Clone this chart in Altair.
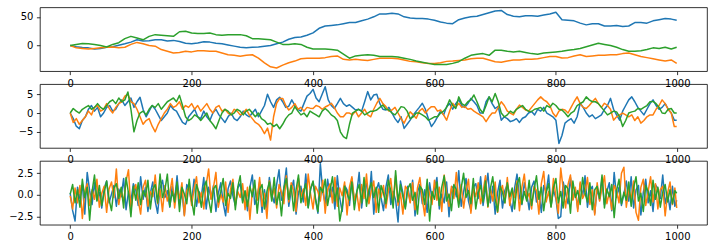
import altair as alt
import numpy as np
import pandas as pd

# ---------------- Panel 1: random walks (sampled every 10 steps) ----------------
p1_blue = [0, -2, -3.5, -4, -6, -5, -3, -2, 0.5, 3, 6, 10, 8, 8.5, 10, 10, 8, 9, 7, 4,
           3, 4.5, 6.5, 6, 4, 3, 1, -1, -3, -4, -3, -2.5, -1, 0, 3, 6, 11, 14, 15, 18,
           22, 30, 34, 35, 36, 38, 40, 40, 43, 46, 50, 55, 55, 56, 55, 50, 48, 47, 47, 46,
           44, 41, 39, 38, 45, 48, 50, 51, 54, 57, 60, 61, 54, 51, 50, 52, 52, 51, 53, 55,
           58, 45, 44, 43, 39, 36, 38, 38, 34, 34, 35, 33, 34, 40, 40, 39, 43, 45, 47, 46, 44]
p1_orange = [0, -4, -5, -6, -5, -4, -3, -2.5, -4, -3, 2, 5.5, 3, 0, -1, -7, -10, -13, -12, -10,
             -11, -9, -9, -10, -10, -13, -16, -17, -18.5, -17, -16, -22, -30, -37, -39, -34, -30, -27, -23, -22,
             -22, -22, -21, -19, -18, -24, -25, -24, -25, -26, -24, -22, -22, -22, -23, -25, -27.5, -28, -30, -31,
             -31, -30, -27.5, -27, -26, -25, -23, -22, -22, -25, -28, -29, -27, -25, -25, -24, -24, -23, -21, -19,
             -19, -21.5, -21, -18, -16, -19, -18, -17, -17, -16, -16, -14, -13, -16, -19, -21, -23, -25, -27, -25, -31]
p1_green = [0, 2, 3.5, 3, 2, 0, -2.5, 2, 5, 12, 16, 13, 10, 16, 19, 18, 17, 16, 24, 25,
            22, 21, 21, 22, 19, 18, 19, 19, 19, 17, 12, 12, 11, 10, 6, 2, 2, 3, 2, -3,
            -6, -6, -6, -7, -8, -15, -22, -18, -17, -16, -17, -19, -19, -19, -20, -22, -24, -27, -29, -31,
            -33, -33, -33, -31, -28, -22, -17, -15, -14, -17, -8, -8, -10, -11, -10, -12, -14, -15, -13, -12,
            -11, -10, -8, -7, -5, -2, 1, 4, 2, 0, -3, -7, -10, -10, -9, -7, -4, -5, -3, -6, -3]

# ---------------- Panel 2: smoothed noise (sampled every 5 steps) ----------------
p2_blue = [0, -1.5, -3.5, -4.2, -2, -1, 1, 2, 0.5, 1.5,
           -1, 0, 1.5, 2, 0.5, 1, 2.5, 3.5, 2, 3,
           4, 1.5, 3, 4.2, 1, -1, 0.5, 2, 1, -0.5,
           -2, -1, 0, 2, 1, 0.5, -1, -2.5, -3, -1,
           0, 1, -1, -1.5, 0.5, -1, -2, 0, 1, -0.5,
           -1.5, -2.5, -1, 0, -1.5, -2, -1, 0.5, -0.5, -1,
           0, 1, -1, 0.5, 2, 5, 3, 1.5, 3.5, 4.2,
           3, 1.5, 1.8, 3.5, 2, 1, 0.5, 2.5, 4.5, 5.2,
           6.3, 4, 3, 5, 7, 3.5, 2, 1.2, 2.5, 3.9,
           2.5, 1.8, 2.2, 1.5, 0.8, 1, 0.5, 3, 5.7, 3.5,
           4.8, 5, 2.5, 1, 0.8, 1.5, 0, -1.5, -2.5, -1,
           -4.1, -3, -1.9, -0.5, 0.5, 1.5, 2.6, 1, -1.5, -3.6,
           -2.5, -1, 0.5, -0.5, 1.7, 2.5, 1, 2.5, 3.5, 2,
           1.5, 2.5, 3.9, 3, 2, 0, 0, 3, 4.3, 2.5,
           1.2, 1.8, -1.9, -1, -1.5, -2.3, -2, -1.5, -2.5, -1.4,
           -1, 0, 0.4, -0.5, 1, 0.5, 1.5, 0, -0.5, -1,
           -1.9, -8.1, -6, -2.7, -2, -1.5, -2.7, -1, 2.6, 1.5,
           0, -1, -0.5, -1.5, -1, -0.5, 1, 2, 3.9, 1,
           -0.5, -1.9, 0.5, 2, 3.5, 4.3, 3, 1.5, 0.5, -0.5,
           1, 2.5, 3.5, 2, 1, 1.5, 2.5, 1, 0, -1.9, -1.9]
p2_orange = [0, -2.5, -1.5, -3, -2, -1, 0.5, -0.5, 1.5, 2,
             0.5, 1, 2.5, 1, 0, 1.5, 2.5, 3, 4.5, 5,
             3, 2.5, 1, -1, -3, -2, -1.5, -3.5, -5, -3,
             -1.5, 0, 1, 2.5, 1.5, 2, 3, 1, 2, 1.5,
             2.5, 1, 2, 0.5, 1.5, 2.5, 1, 0, 1.5, 2,
             0.5, 1, 0, -0.5, 1, 0.5, -0.5, 0, 1, -0.5,
             -1.5, -2.5, -3, -4, -5.5, -4, -7.2, -1, 2.6, 3.9,
             3.9, 2, 0.8, 1.5, 2.5, 1, 1.5, 0.5, 1.5, 1.3,
             1.2, 2, 1.7, 1, 1.6, 2, 2.6, 1.5, 0, -1,
             -1, 0, 0, -0.5, 0.5, -1, 0, 1, -0.5, -1,
             1, 2.6, 3.9, 2.5, 1.7, 0.5, 0.8, 1.5, 0, -1.5,
             -2.7, -1, 0.3, -0.5, -1.4, 0.5, 1.2, 0, 1, 1.7,
             1.7, 0.5, 0.8, -0.5, -1.9, 0.5, 2.6, 1.5, 2.6, 1.5,
             1.7, 1, 1.2, 0.5, 0, -0.5, -1, -2.3, -1, 0,
             0, 1.5, 3, 2, 0.5, 0, -0.5, 1, 2.1, 1.5,
             0.8, 0.5, 1.5, 2.5, 3.5, 4.3, 3.5, 3, 2, 0,
             -1, 0.5, 1, 0.8, 0, 1.5, 3, 4.3, 2.5, 1.5,
             1.2, 2, 3, 3.9, 2.5, 1.5, 2.6, 2, 1, -1.9,
             -1, -0.5, 0, -0.5, -1, -0.5, -2, -1, -2.7, -2,
             -1, -0.5, -0.5, 1, 2, 3.5, 2.5, 1, 0, -3.6, -3.6]
p2_green = [0, 1.2, 0.5, 0, 1, 1.5, 2, 1, 1.5, 2.5,
            1.5, 1, 2, 3, 3.5, 2.5, 4, 3, 3.5, 5.6,
            1, -5, -2, 0, 0.5, -0.5, 1, 2, 1.5, 2.5,
            1, 2, 3, 3.5, 4, 3, 4.7, 2, -1, -2,
            -1.5, -0.5, -1, -2, -1, 0, -2, -3, -4.2, -2,
            0, 1, 0.5, -0.5, 0, 1, 0.5, -0.5, 0.5, 1,
            0, -1, 0, -1.5, -2, -3, -2.7, -3.6, -3, -4.2,
            -3, -1.5, -0.5, 0, 1.7, 0.5, -0.5, 0, -1, 0.5,
            0, -0.5, -1, 0.5, 1.2, 0.5, -0.5, -1, -2, -5,
            -6.3, -6.8, -3, 0, 0.5, 1, 0.5, -0.5, 0, 0.5,
            0.5, 0.8, 1.5, 2.1, 1, 0.8, 0, -0.5, 0.5, 1.7,
            1.5, 0.5, -1.5, -1, 0, 0, -0.5, -1, -1.9, -1.5,
            -1, -1, 0, 0.5, 1.5, 3.5, 2, 1.2, 4.3, 2.5,
            2, 3, 3.5, 4.8, 3, 1, 0, 2, 4.3, 3,
            5.2, 3, 0, -1, -0.5, 0.5, 0, 1, 1.5, 2,
            1, 0.5, 0.4, 1, 1.2, 1.5, 0.5, 2, 1.5, 2.6,
            2, 1, 0.8, 0, -1, 0, 0.5, 2, 2.5, 3,
            4.3, 3.5, 3, 3, 2.5, 1.5, 0.5, -0.5, 0, 0.5,
            0.3, -1, -3.6, -2, 0, 0.3, 0.5, 1.2, 1, 1.5,
            2, 3, 3.1, 2.5, 1.5, 0, -0.1, 1, 1.2, 0, 0]

# ---------------- Panel 3: white noise (sampled every 4 steps) ----------------
p3_blue = [0.2, -1.8, -3.0, 0.9, -0.4, 1.2, -2.2, 2.6, 0.5, -1.1,
           1.4, -0.6, 0.3, -1.5, 0.8, 1.6, -0.9, 0.1, 1.1, -1.3,
           0.7, -0.2, 1.9, -1.7, 0.4, -0.8, 1.3, 0.6, -1.2, 2.1,
           -0.5, 0.9, -1.9, 0.2, 1.5, -0.7, -2.1, 0.8, 1.7, -0.3,
           0.5, -1.4, 1.0, -0.6, 2.2, -1.0, 0.3, -2.3, 1.2, 0.6,
           -0.8, 1.8, -1.3, 0.4, -0.2, 2.0, -1.6, 0.9, -0.4, 1.1,
           -1.9, 0.2, 1.4, -0.9, -2.4, 0.7, 1.6, -0.1, -1.2, 0.8,
           1.3, -0.7, 0.4, -1.8, 0.9, 2.3, -1.1, -0.3, 1.5, -2.0,
           0.6, -1.5, 2.0, 0.1, -0.9, 1.2, 2.9, -0.6, 0.8, 3.1,
           -1.3, 0.5, 1.7, -2.2, 0.3, 1.0, -0.8, 2.4, -1.4, 0.7,
           1.5, -0.5, -2.1, 3.6, 0.4, -1.0, 1.8, -0.2, 0.9, -1.6,
           2.2, -0.4, -1.9, 1.1, 0.6, -1.2, 1.9, -0.7, 0.2, 2.6,
           -1.5, 0.8, 1.3, -0.9, 2.7, -2.2, 0.5, 1.4, -0.3, -1.8,
           0.9, 2.3, -1.1, 0.4, -0.6, -3.1, 1.6, 0.2, -1.4, 1.0,
           -0.8, 1.7, -2.4, 0.3, 1.2, -1.0, 0.6, -2.0, 1.4, -0.5,
           0.8, 2.0, -1.6, 0.1, -0.9, 1.5, -2.5, 0.7, 1.1, -0.2,
           2.8, -1.3, 0.4, 1.9, -0.7, -1.8, 0.9, 1.3, -0.4, 2.1,
           -1.2, 0.6, 2.5, -0.9, 1.0, -2.2, 0.3, 1.7, -1.5, 0.5,
           1.2, -0.6, -1.9, 0.8, 2.4, -0.3, -1.1, 1.4, 0.2, -1.7,
           0.9, 1.6, -0.8, 0.4, -2.0, 1.1, 0.3, 2.3, -1.3, 0.6,
           -0.4, -2.7, -2.5, 1.5, 0.2, -1.0, 2.0, -0.5, 0.7, -1.6,
           1.3, -0.2, 2.2, -1.4, 0.5, 1.0, -2.1, 0.8, -0.6, 1.9,
           -1.1, 0.4, 1.4, -1.8, 2.6, -0.3, 0.9, -1.2, 0.1, 1.6,
           -0.7, 2.1, -1.5, 0.6, 1.1, -2.3, 0.3, 1.8, -0.9, 0.5,
           -1.9, 1.2, 0.7, -0.4, 2.3, -1.0, 0.2, -1.7, 1.0, -1.3, -0.6]
p3_orange = [-0.1, -1.6, 0.8, -0.9, 1.1, -2.7, 0.4, 1.3, -1.2, 0.6,
             -0.5, 1.8, -1.4, 0.2, 1.0, -2.0, 0.7, 1.5, -0.3, 3.0,
             -1.1, 0.5, -0.8, 1.6, 2.9, -1.7, 0.3, 1.2, -0.6, -2.2,
             0.9, 1.7, -1.3, 0.4, -0.2, 2.3, -1.0, 0.6, -1.9, 1.1,
             -0.7, 0.2, 1.9, -1.5, 0.8, -0.4, 1.4, -2.4, 0.5, 1.0,
             -1.2, 0.7, 2.1, -0.9, 0.3, -1.6, 1.2, 3.0, -0.5, 0.9,
             2.6, -1.4, 0.1, -0.8, 1.5, -2.0, 0.6, 1.8, -1.1, 0.4,
             -0.3, 1.3, -1.7, 0.9, -2.8, 0.5, 1.1, -0.6, 2.0, -1.3,
             0.2, -2.7, 1.6, -0.4, 0.8, -1.5, 1.2, 0.3, -1.0, 2.2,
             -0.8, 1.4, 0.5, -1.9, 1.9, -0.2, 0.7, -1.2, 2.4, 0.1,
             -1.6, 1.0, 0.4, -0.7, 1.7, -2.1, 0.6, 1.3, -0.9, 2.0,
             -1.3, 0.8, -0.1, 1.5, -2.3, 0.9, 2.1, -0.6, 0.3, -1.8,
             1.2, -0.4, 2.4, -1.0, 0.5, 1.6, -2.0, 0.7, -0.3, 1.1,
             -1.5, 0.4, 1.9, -0.8, 2.2, -1.2, 0.2, -2.2, 1.0, 0.6,
             -0.9, 1.4, -1.7, 0.8, 2.0, -0.5, -2.4, 1.3, 0.1, -1.1,
             1.7, -0.6, 0.9, -1.9, 2.3, 0.2, -1.3, 1.0, -0.4, 2.6,
             -0.8, 1.2, -1.5, 0.5, 1.8, -2.1, 0.7, -0.2, 1.4, -1.0,
             0.3, 2.2, -1.4, 0.8, -0.7, 1.5, -2.0, 0.4, 1.1, -0.9,
             2.0, -1.2, 0.6, -0.3, 1.6, -1.8, 0.9, 2.4, -0.5, 0.2,
             -1.6, 1.0, 0.5, -2.2, 1.3, 2.7, -0.8, 0.4, -1.3, 1.9,
             -0.2, -2.1, 3.1, 0.7, -1.5, 1.2, 2.3, -0.6, 0.9, -1.9,
             1.5, -0.4, 0.2, 2.0, -1.1, 0.6, -2.3, 1.4, -0.7, 0.8,
             2.2, -1.0, 0.3, -1.7, 1.1, 0.5, -0.9, 2.5, 3.2, -1.4,
             0.7, -0.5, 1.6, -2.0, -2.9, 0.9, 1.8, -1.2, 0.4, 2.1,
             -0.8, 1.3, -1.6, 0.6, 1.0, -2.4, 0.2, 1.5, -1.1, 0.8, -1.5]
p3_green = [0.1, 1.2, -0.9, 0.6, -1.4, 1.8, -0.3, 0.9, -2.9, 0.4,
            2.3, -0.7, 1.1, -1.2, 0.3, 1.6, -0.5, -1.8, 0.8, 1.3,
            -0.4, 0.9, -1.5, 2.0, 0.2, -2.5, 1.0, -0.6, 1.4, -1.1,
            0.5, -0.2, 1.7, -1.6, 0.7, 1.2, -0.9, 2.4, -0.3, 0.6,
            2.4, -1.3, 0.4, -0.8, 1.5, -1.9, 0.9, 0.1, -1.0, 1.8,
            -0.6, -2.3, 1.2, 0.3, -1.4, 0.8, 1.6, -0.5, -2.0, 0.7,
            1.1, -0.8, 0.4, 1.9, -1.2, 0.2, -0.4, 1.4, -1.7, 0.9,
            2.2, -0.9, 0.5, -1.3, 1.0, -0.2, 1.7, -2.1, 0.6, 1.2,
            -1.6, 0.4, 1.5, -0.7, 2.0, -1.1, 0.3, -2.4, 0.8, 1.9,
            -0.5, 1.1, -1.8, 0.6, 2.3, -0.9, 0.2, 1.3, -1.5, 0.7,
            1.6, -0.4, -1.9, 0.9, 0.3, 1.8, -1.2, 0.5, 2.1, -0.7,
            0.8, -3.0, -1.4, 1.0, 0.2, -0.6, 1.5, -1.7, 0.4, 1.2,
            -0.9, 2.0, -1.3, 0.6, 1.4, -0.3, 0.9, -2.0, 1.1, 0.2,
            -1.0, 1.7, 0.5, -1.5, 2.8, -0.8, 1.2, -0.2, -1.6, 0.7,
            1.3, -0.6, 0.3, -2.2, 1.0, 0.6, -1.1, 1.8, -3.0, 0.4,
            -0.5, 1.5, -1.2, 0.9, 2.2, -0.7, 0.1, -1.8, 1.2, 0.6,
            -1.4, 0.8, 2.5, -0.3, 0.5, -1.0, 1.9, -1.6, 0.2, 1.1,
            -0.8, 1.6, -1.3, 0.7, 2.1, -0.5, -1.9, 1.0, 0.3, -0.9,
            1.4, -0.2, 0.8, -1.6, 1.2, 2.0, -1.0, 0.4, -0.7, 1.7,
            -1.2, 0.6, 2.2, -0.5, 0.9, -1.8, 0.3, 1.3, -1.4, 0.8,
            1.9, -0.9, 0.4, -1.5, 1.1, 0.7, -2.1, 1.6, -0.3, 0.5,
            -1.1, 2.0, 0.2, -0.8, 1.4, -1.7, 0.6, 1.0, -0.4, 2.3,
            -1.5, 0.7, -0.2, 1.2, -2.6, 0.5, 1.8, -1.0, 0.3, -0.6,
            1.5, -1.3, 0.8, 2.1, -0.7, 0.2, -1.9, 1.1, 0.4, -1.2,
            1.7, -0.5, 0.9, -1.4, 0.3, 1.2, -0.8, 0.6, -1.0, 0.5, 0.2]

X_TICKS = [0, 200, 400, 600, 800, 1000]
COLORS = ["#1f77b4", "#ff7f0e", "#2ca02c"]


def make_panel(series, stride, ydomain, yticks, yfmt):
    layers = []
    for vals, col in zip(series, COLORS):
        n = len(vals)
        df = pd.DataFrame({"x": np.minimum(np.arange(n) * stride, 999), "y": vals})
        layers.append(
            alt.Chart(df).mark_line(color=col, strokeWidth=1.5, strokeJoin="round", clip=True).encode(
                x=alt.X("x:Q",
                        scale=alt.Scale(domain=[-49.95, 1048.95], nice=False, zero=False),
                        axis=alt.Axis(values=X_TICKS, format="d", title=None)),
                y=alt.Y("y:Q",
                        scale=alt.Scale(domain=ydomain, nice=False, zero=False),
                        axis=alt.Axis(values=yticks, format=yfmt, title=None)),
            )
        )
    return alt.layer(*layers).properties(width=669, height=64)


top = make_panel([p1_blue, p1_orange, p1_green], 10, [-44.5, 66.5], [0, 50], "d")
mid = make_panel([p2_blue, p2_orange, p2_green], 5, [-9.3, 7.7], [-5, 0, 5], "d")
bot = make_panel([p3_blue, p3_orange, p3_green], 4, [-3.42, 3.92], [-2.5, 0, 2.5], ".1f")

chart = (
    alt.vconcat(top, mid, bot, spacing=13, bounds="flush")
    .properties(padding={"left": 8, "top": 6, "right": 7, "bottom": 6}, background="white")
    .configure_view(stroke="black", strokeWidth=0.8)
    .configure_axis(
        grid=False, domain=False, tickColor="black", tickSize=3.5, tickWidth=0.8,
        labelFont="DejaVu Sans", labelFontSize=10, labelColor="black", labelPadding=3.5,
    )
)

chart.save("out.html", embed_options={"renderer": "svg", "actions": False})
